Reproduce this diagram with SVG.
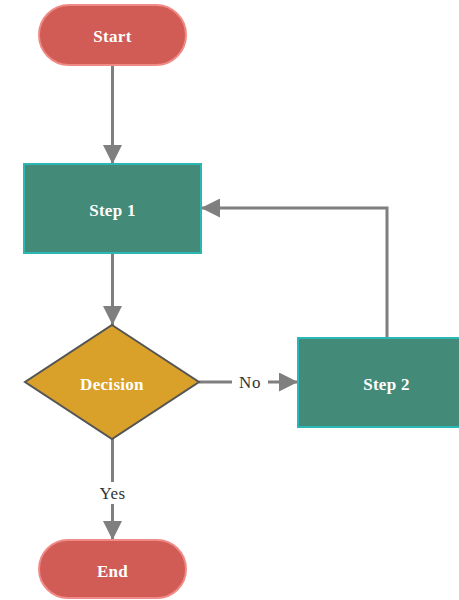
<svg xmlns="http://www.w3.org/2000/svg" width="459" height="600" viewBox="0 0 459 600">
<defs>
<marker id="arrow" viewBox="0 0 12 12" refX="12" refY="6" markerWidth="19" markerHeight="19" markerUnits="userSpaceOnUse" orient="auto">
<path d="M0,0 L12,6 L0,12 z" fill="#7f7f7f"/>
</marker>
</defs>
<style>
.term{fill:#d15b55;stroke:#f08a86;stroke-width:2}
.proc{fill:#438a78;stroke:#2bb8b4;stroke-width:2}
.dec{fill:#d9a12a;stroke:#555555;stroke-width:2}
.lbl{font-family:"Liberation Serif",serif;font-weight:bold;font-size:17px;letter-spacing:0.3px;fill:#ffffff;text-anchor:middle;dominant-baseline:central}
.edge{fill:none;stroke:#7f7f7f;stroke-width:3;marker-end:url(#arrow)}
.elbl{font-family:"Liberation Serif",serif;font-size:17px;letter-spacing:0.5px;fill:#333333;text-anchor:middle;dominant-baseline:central}
</style>
<rect width="459" height="600" fill="#ffffff"/>
<g id="connectors">
<path class="edge" d="M112.5,65 L112.5,164"/>
<path class="edge" d="M112.5,253 L112.5,325"/>
<path class="edge" d="M199,382 L298,382"/>
<path class="edge" d="M387,338 L387,208 L201,208"/>
<path class="edge" d="M112.5,439 L112.5,540"/>
<rect x="232" y="371" width="36" height="22" fill="#ffffff"/>
<text class="elbl" x="250" y="382">No</text>
<rect x="94" y="482" width="37" height="22" fill="#ffffff"/>
<text class="elbl" x="112.5" y="493">Yes</text>
</g>
<g id="start">
<rect class="term" x="39" y="5" width="147" height="60" rx="30" ry="30"/>
<text class="lbl" x="112.5" y="36">Start</text>
</g>
<g id="step1">
<rect class="proc" x="24" y="164" width="177" height="89"/>
<text class="lbl" x="112.5" y="210">Step 1</text>
</g>
<g id="decision">
<polygon class="dec" points="112,325 199,382 112,439 25,382"/>
<text class="lbl" x="112" y="384">Decision</text>
</g>
<g id="step2">
<rect class="proc" x="298" y="338" width="177" height="89"/>
<text class="lbl" x="386.5" y="384">Step 2</text>
</g>
<g id="end">
<rect class="term" x="39" y="540" width="147" height="58" rx="29" ry="29"/>
<text class="lbl" x="112.5" y="571">End</text>
</g>
</svg>
